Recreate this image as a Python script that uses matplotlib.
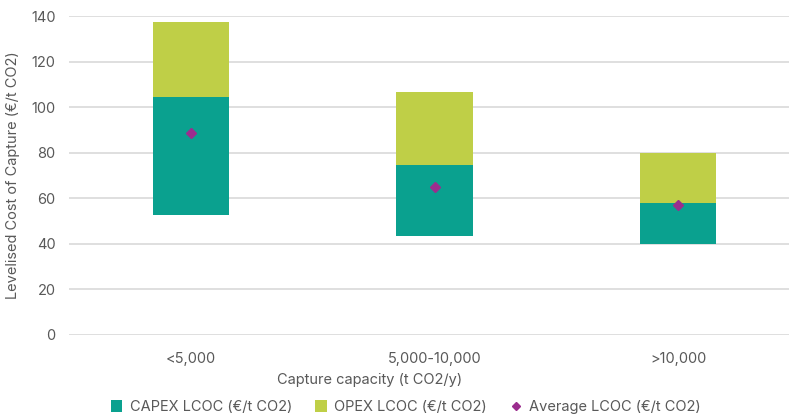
import matplotlib.pyplot as plt
from matplotlib.lines import Line2D
from matplotlib.patches import Patch

categories = ['<5,000', '5,000-10,000', '>10,000']
lcoc_low = [52.7, 43.5, 40.0]       # bottom of the CAPEX segment
capex_top = [104.5, 74.7, 58.0]     # CAPEX / OPEX boundary
lcoc_high = [137.5, 106.7, 80.0]    # top of the OPEX segment
lcoc_avg = [88.5, 65.0, 57.2]

capex_col = '#0aa18f'
opex_col = '#bfcf47'
avg_col = '#9b2d8e'
text_col = '#595959'

plt.rcParams['font.family'] = ['Inter', 'DejaVu Sans']
plt.rcParams['font.size'] = 10.5

fig = plt.figure(figsize=(7.89, 4.18), dpi=100)
ax = fig.add_axes([0.0878, 0.1986, 0.926, 0.763])

x = list(range(len(categories)))
capex_h = [t - b for t, b in zip(capex_top, lcoc_low)]
opex_h = [t - b for t, b in zip(lcoc_high, capex_top)]

ax.bar(x, capex_h, bottom=lcoc_low, width=0.314, color=capex_col, zorder=2)
ax.bar(x, opex_h, bottom=capex_top, width=0.314, color=opex_col, zorder=2)
ax.plot(x, lcoc_avg, linestyle='none', marker='D', markersize=5.5,
        color=avg_col, zorder=3)

ax.set_xlim(-0.5, 2.5)
ax.set_ylim(0, 140)
ax.set_yticks(range(0, 141, 20))
ax.set_xticks(x)
ax.set_xticklabels(categories)
ax.tick_params(axis='both', length=0, colors=text_col, labelsize=10.5)
ax.tick_params(axis='x', pad=12)
ax.tick_params(axis='y', pad=10)
ax.grid(axis='y', color='#d9d9d9', linewidth=1.2, zorder=0)
for s in ax.spines.values():
    s.set_visible(False)

ax.set_ylabel('Levelised Cost of Capture (€/t CO2)', color=text_col,
              fontsize=10.5, labelpad=8)
fig.text(370 / 789, 1 - 380 / 418, 'Capture capacity (t CO2/y)', color=text_col,
         fontsize=10.5, ha='center', va='center')

handles = [
    Patch(facecolor=capex_col, label='CAPEX LCOC (€/t CO2)'),
    Patch(facecolor=opex_col, label='OPEX LCOC (€/t CO2)'),
    Line2D([], [], linestyle='none', marker='D', markersize=4.5,
           color=avg_col, label='Average LCOC (€/t CO2)'),
]
leg = fig.legend(handles=handles, loc='center', ncol=3,
                 bbox_to_anchor=(406 / 789, 1 - 407 / 418), frameon=False,
                 handlelength=0.8, handleheight=0.8, handletextpad=0.5,
                 columnspacing=1.6, fontsize=10.5)
for t in leg.get_texts():
    t.set_color(text_col)

fig.savefig('out.png', dpi=100)
